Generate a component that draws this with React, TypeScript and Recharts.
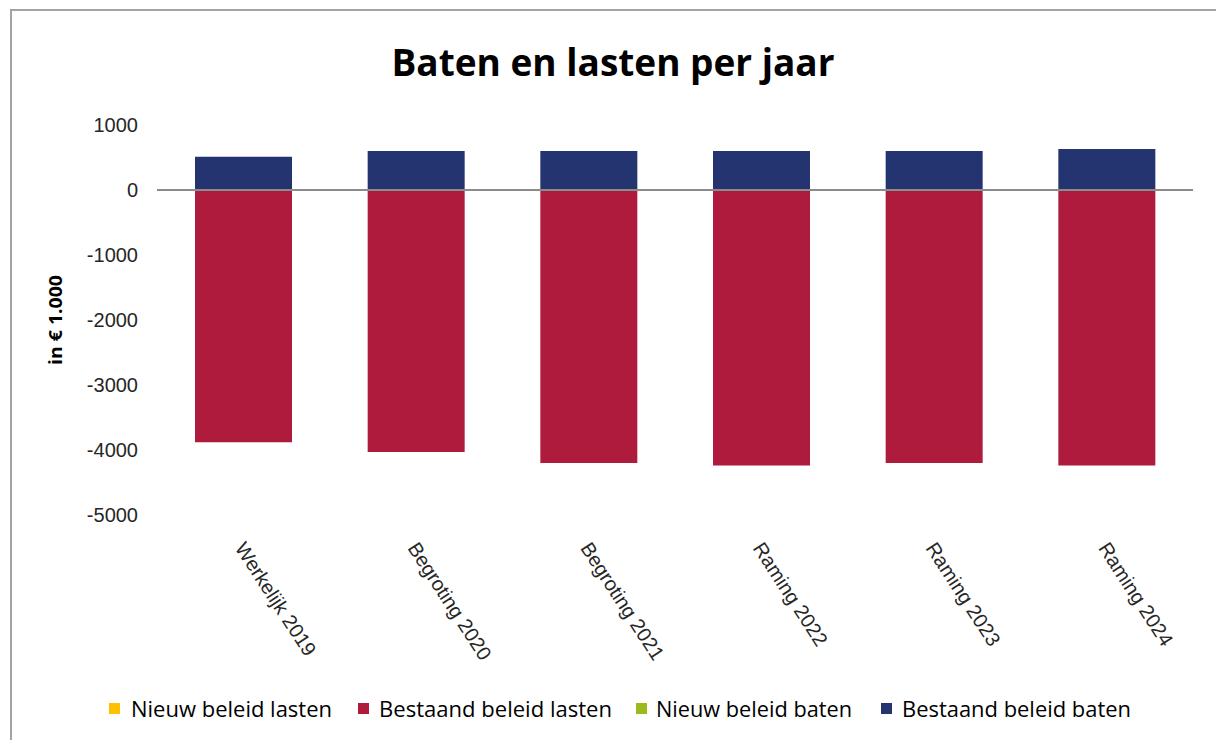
import React from 'react';
import { BarChart, Bar, XAxis, YAxis, ReferenceLine } from 'recharts';

const categories = ['Werkelijk 2019', 'Begroting 2020', 'Begroting 2021', 'Raming 2022', 'Raming 2023', 'Raming 2024'];
const nieuwBeleidLasten = [0, 0, 0, 0, 0, 0];
const bestaandBeleidLasten = [-3880, -4030, -4200, -4240, -4200, -4240];
const nieuwBeleidBaten = [0, 0, 0, 0, 0, 0];
const bestaandBeleidBaten = [510, 600, 600, 600, 600, 630];
const yTicks = [-5000, -4000, -3000, -2000, -1000, 0, 1000];

const seriesNames = ['Nieuw beleid lasten', 'Bestaand beleid lasten', 'Nieuw beleid baten', 'Bestaand beleid baten'];
const seriesColors = ['#FFC000', '#AE1B3C', '#9BBB1A', '#233470'];

const data = categories.map((c, i) => ({
  name: c,
  nieuwLasten: nieuwBeleidLasten[i],
  bestaandLasten: bestaandBeleidLasten[i],
  nieuwBaten: nieuwBeleidBaten[i],
  bestaandBaten: bestaandBeleidBaten[i],
}));

const keys = ['nieuwLasten', 'bestaandLasten', 'nieuwBaten', 'bestaandBaten'];

const TEXT = '#262626';
const CAL = '"Liberation Sans Narrow", "Arial Narrow", "Open Sans", sans-serif';

const XTick = (props: any) => {
  const { x, y, payload } = props;
  const tx = x - 9;
  const ty = y + 33;
  return (
    <text
      x={tx}
      y={ty}
      transform={`rotate(57 ${tx} ${ty})`}
      textAnchor="start"
      fontSize={20}
      fontFamily='"Liberation Sans", Arial, sans-serif'
      fill={TEXT}
    >
      {payload.value}
    </text>
  );
};

const legendLayout = [
  { sq: 109, tx: 131, w: 201 },
  { sq: 358, tx: 379, w: 233 },
  { sq: 636, tx: 656, w: 196 },
  { sq: 881, tx: 902, w: 229 },
];

export default function App() {
  return (
    <div style={{ position: 'fixed', left: 0, top: 0, width: 1216, height: 740, overflow: 'hidden', background: '#fff' }}>
      <div
        style={{
          position: 'absolute',
          left: 10,
          top: 9,
          width: 1400,
          height: 900,
          borderLeft: '2px solid #a3a3a3',
          borderTop: '2px solid #a3a3a3',
        }}
      />
      <div style={{ position: 'absolute', left: 0, top: 0 }}>
        <BarChart
          width={1216}
          height={740}
          data={data}
          stackOffset="sign"
          margin={{ top: 125, right: 23, bottom: 75, left: 97 }}
        >
          <XAxis
            dataKey="name"
            axisLine={false}
            tickLine={false}
            tickSize={0}
            tickMargin={0}
            height={150}
            interval={0}
            tick={<XTick />}
          />
          <YAxis
            domain={[-5000, 1000]}
            ticks={yTicks}
            axisLine={false}
            tickLine={false}
            tickSize={0}
            tickMargin={19}
            width={60}
            tick={{ fontSize: 20, fill: TEXT, fontFamily: '"Liberation Sans", Arial, sans-serif' }}
            label={{
              content: (p: any) => {
                const vb = p.viewBox || { x: 97, y: 125, height: 390 };
                const cx = vb.x - 42;
                const cy = vb.y + vb.height / 2;
                return (
                  <text
                    x={cx}
                    y={cy}
                    transform={`rotate(-90 ${cx} ${cy})`}
                    textAnchor="middle"
                    dominantBaseline="central"
                    fontSize={18}
                    fontWeight="bold"
                    fontFamily={CAL}
                    fill="#000"
                    textLength={90}
                    lengthAdjust="spacingAndGlyphs"
                  >
                    in € 1.000
                  </text>
                );
              },
            }}
          />
          {keys.map((k, i) => (
            <Bar
              key={k}
              dataKey={k}
              name={seriesNames[i]}
              stackId="a"
              fill={seriesColors[i]}
              barSize={97}
              isAnimationActive={false}
            />
          ))}
          <ReferenceLine y={0} stroke="#8c8c8c" strokeWidth={2} ifOverflow="extendDomain" />
        </BarChart>
      </div>
      <svg width={1216} height={740} style={{ position: 'absolute', left: 0, top: 0, pointerEvents: 'none' }}>
        <text
          x={613}
          y={76}
          textAnchor="middle"
          fontSize={38}
          fontWeight="bold"
          fontFamily={CAL}
          fill="#000"
          textLength={443}
          lengthAdjust="spacingAndGlyphs"
        >
          Baten en lasten per jaar
        </text>
        {legendLayout.map((l, i) => (
          <g key={i}>
            <rect x={l.sq} y={703} width={11} height={11} fill={seriesColors[i]} />
            <text
              x={l.tx}
              y={717}
              fontSize={21}
              fontFamily={CAL}
              fill="#000"
              textLength={l.w}
              lengthAdjust="spacingAndGlyphs"
            >
              {seriesNames[i]}
            </text>
          </g>
        ))}
      </svg>
    </div>
  );
}
